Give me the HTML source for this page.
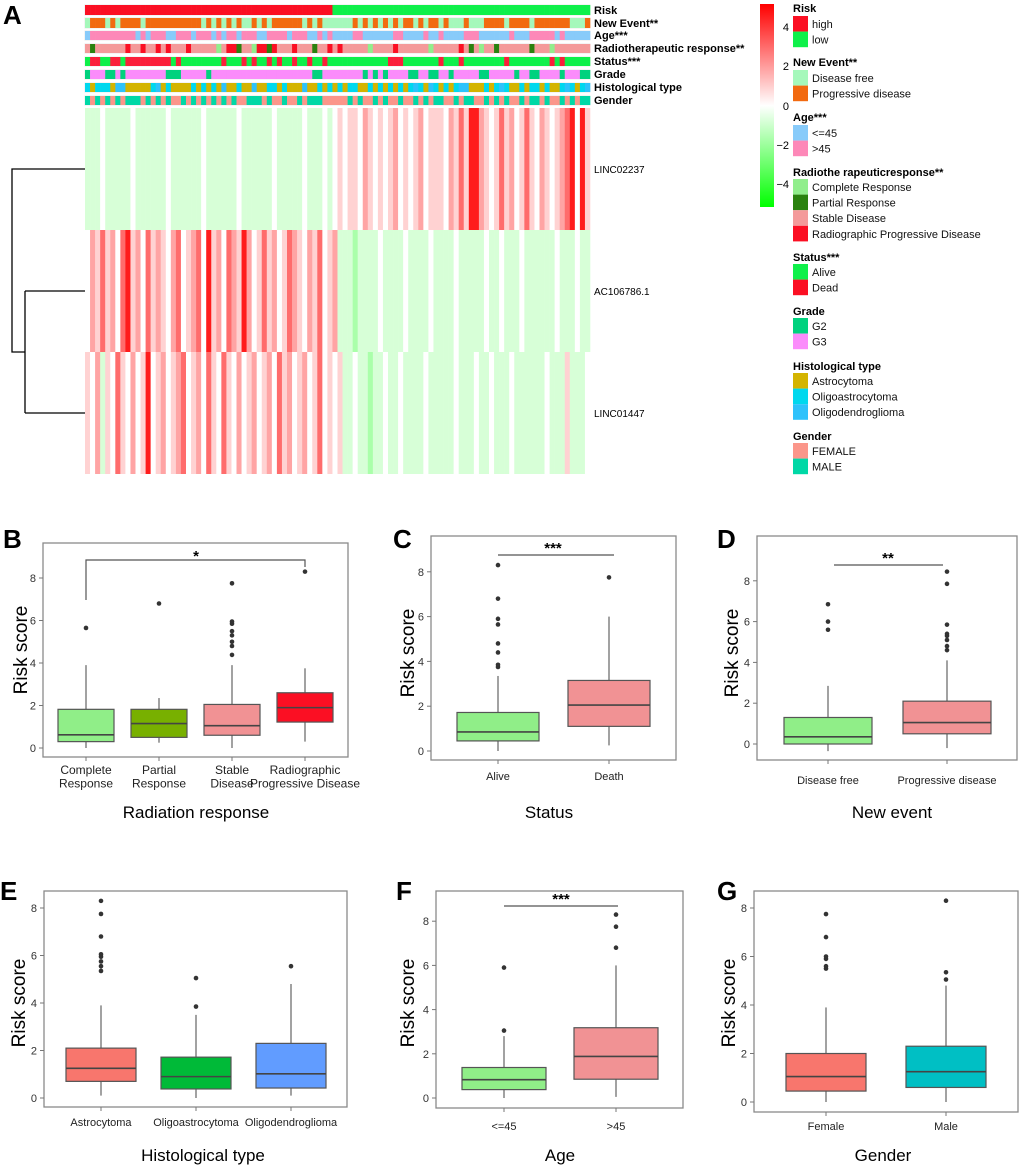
<!DOCTYPE html>
<html><head><meta charset="utf-8">
<style>
html,body{margin:0;padding:0;background:#fff;}
svg{display:block;font-family:"Liberation Sans",Arial,sans-serif;}
</style></head>
<body>
<svg id="fig" width="1020" height="1168" viewBox="0 0 1020 1168" xmlns="http://www.w3.org/2000/svg">
<rect x="0" y="0" width="1020" height="1168" fill="#fff"/>
<text x="3" y="24" font-size="26" font-weight="bold">A</text>
<g id="heat"></g>
<g id="legend"></g>
<g id="boxes"></g>
</svg>
<script>
// ---------- Heatmap data ----------
const annoRisk = "h".repeat(49) + "l".repeat(51);
const annoNewEvent = "npppnpnpppp" + "npppppppppppp".slice(0,12) + "npnpnpnpnnpnpnppppppnpnpnnnnnnpnpnpnpnpnppnpnppnpnnnpnnnppppnppppnpppppppnnnpn";
const annoAge = "bkkkkkkkkkbkbkkkbbkkkbkkkbkbkkbkkkbbkkkkbkkkbbkbkbbbbkkbbbbbbkkbbbbkbbkbbbbkkkbbbbbbkbbbkkkkkbkbbbbb";
const annoRadio = "spssssssrssrssrsrsssrssssscsrrpsscrrprsssrssspssrsrssssscssssrsssssscsssssrspscsspsssssspssscsssssssrccc";
const annoStatus = "addaaddadddddddddadaaaaaaaadaaadadaadadaadaadaadaaaaaaaaaaaadddaaaaaaadaaadaaaaaaaadaaaaaaaadadaaaaa";
const annoGrade = "2333223233333333222333332333333333333333333332233333333232323333223322332333332233333233223333233322";
const annoHisto = "oaoooaddaaaaaodaoaaaaoaoaoadaaoaadaaooaoaaadaaoaoaoaooaaoaoaoaoaodoadoaoaoddaaaoaodoaaoaooaoaaodoaod";
const annoGender = "mfmfmfmfmmmfmfmfmffmfmfmfmfmfmffmmmfmffmffmfmmmfffffmfmffmfmffmffmfmfmmffmfmmffmfmfmffmfmmfmffmfmfmm";
const rowNames = ["LINC02237", "AC106786.1", "LINC01447"];
const exprRow1 = "1112111112111111211111121111112111111211111211121232332432323423234233324353664323534235324323456263 4".replace(/ /g,"");
const exprRow2 = "2435342563425343245234526342543642353423543243523411101111211112111121111211111211211121111112111211";
const exprRow3 = "3241325324236234234523425325324234234253423423523231121101121121111211111211121121112111111211131112";
const digitValues = [-1.5, -0.7, 0, 0.8, 1.6, 2.6, 4];

const NS = "http://www.w3.org/2000/svg";
function mk(parent, tag, attrs, text) {
  const el = document.createElementNS(NS, tag);
  for (const k in attrs) el.setAttribute(k, attrs[k]);
  if (text !== undefined) el.textContent = text;
  parent.appendChild(el);
  return el;
}
function valColor(v) {
  const t = Math.min(1, Math.abs(v) / 4.5);
  const c = Math.round(255 * (1 - t));
  return v >= 0 ? `rgb(255,${c},${c})` : `rgb(${c},255,${c})`;
}

const heat = document.getElementById('heat');
const HX0 = 85, HX1 = 590, NCOL = 100, CW = (HX1 - HX0) / NCOL;
const colX = i => HX0 + i * CW;

const tracks = [
  {label: "Risk", s: annoRisk, y: 5, h: 10, cmap: {h: "#fb0f23", l: "#0ff04a"}},
  {label: "New Event**", s: annoNewEvent, y: 18, h: 10, cmap: {n: "#a5f8bb", p: "#f26a10"}},
  {label: "Age***", s: annoAge, y: 31, h: 9, cmap: {b: "#88cbfa", k: "#fd88b8"}},
  {label: "Radiotherapeutic response**", s: annoRadio, y: 44, h: 9, cmap: {s: "#f49a9a", r: "#fb0f23", p: "#2a820f", c: "#91ee8c"}},
  {label: "Status***", s: annoStatus, y: 57, h: 9, cmap: {a: "#0ff04a", d: "#fb1f3a"}},
  {label: "Grade", s: annoGrade, y: 70, h: 9, cmap: {"2": "#00d27e", "3": "#fb8cfb"}},
  {label: "Histological type", s: annoHisto, y: 83, h: 9, cmap: {a: "#d4b400", o: "#00d8ee", d: "#2ec2fb"}},
  {label: "Gender", s: annoGender, y: 96, h: 9, cmap: {f: "#fb968a", m: "#00d8a6"}}
];
tracks.forEach((tr, ti) => {
  const g = mk(heat, 'g', {});
  
  
  mk(g, 'rect', {x: HX0 - 0.5, y: tr.y - 0.5, width: HX1 - HX0 + 1, height: tr.h + 1, fill: "#e8e8e8"});
  for (let i = 0; i < NCOL; i++) {
    const ch = tr.s[Math.min(i, tr.s.length - 1)];
    mk(g, 'rect', {x: colX(i).toFixed(2), y: tr.y, width: (CW + 0.3).toFixed(2), height: tr.h, fill: tr.cmap[ch] || "#ccc"});
  }
  const t = mk(heat, 'text', {x: 594, y: tr.y + tr.h - 1, 'font-size': 11, 'font-weight': 'bold'}, tr.label);
  
  
});

const exprRows = [exprRow1, exprRow2, exprRow3];
const rowY = [108, 230, 352], rowH = 122;
exprRows.forEach((s, r) => {
  const g = mk(heat, 'g', {});
  
  
  for (let i = 0; i < NCOL; i++) {
    const d = parseInt(s[Math.min(i, s.length - 1)], 10);
    mk(g, 'rect', {x: colX(i).toFixed(2), y: rowY[r], width: (CW + 0.3).toFixed(2), height: rowH, fill: valColor(digitValues[d])});
  }
  const t = mk(heat, 'text', {x: 594, y: rowY[r] + rowH / 2 + 4, 'font-size': 10}, rowNames[r]);
  
  
});
// dendrogram
const dg = mk(heat, 'g', {stroke: "#000", 'stroke-width': 1.3, fill: "none"});


const ly = rowY.map(y => y + rowH / 2);
const midY = (ly[1] + ly[2]) / 2;
mk(dg, 'path', {d: `M85 ${ly[0]} H12 V${midY} H25 M25 ${ly[1]} V${ly[2]} M25 ${ly[1]} H85 M25 ${ly[2]} H85`});

// ---------- Legend ----------
const lg = document.getElementById('legend');
const grad = mk(lg, 'defs', {});
const lgr = mk(grad, 'linearGradient', {id: 'cb', x1: 0, y1: 0, x2: 0, y2: 1});
mk(lgr, 'stop', {offset: '0', 'stop-color': '#ff0000'});
mk(lgr, 'stop', {offset: '0.5', 'stop-color': '#ffffff'});
mk(lgr, 'stop', {offset: '1', 'stop-color': '#00ff00'});
const cbar = mk(lg, 'rect', {x: 760, y: 4, width: 14, height: 203, fill: 'url(#cb)'});


const cbTicks = ["4", "2", "0", "\u22122", "\u22124"];
const cbTickY = [27, 66, 106, 145, 184];
cbTicks.forEach((s, i) => {
  const t = mk(lg, 'text', {x: 789, y: cbTickY[i] + 4, 'font-size': 11, 'text-anchor': 'end'}, s);
  
  
});
const legendGroups = [
  {title: "Risk", ty: 8, sy: 16, items: [["high", "#fb0f23"], ["low", "#0ff04a"]]},
  {title: "New Event**", ty: 62, sy: 70, items: [["Disease free", "#a5f8bb"], ["Progressive disease", "#f26a10"]]},
  {title: "Age***", ty: 117, sy: 125, items: [["<=45", "#88cbfa"], [">45", "#fd88b8"]]},
  {title: "Radiothe rapeuticresponse**", ty: 172, sy: 179, items: [["Complete Response", "#91ee8c"], ["Partial Response", "#2a820f"], ["Stable Disease", "#f49a9a"], ["Radiographic Progressive Disease", "#fb0f23"]]},
  {title: "Status***", ty: 257, sy: 264, items: [["Alive", "#0ff04a"], ["Dead", "#fb0f23"]]},
  {title: "Grade", ty: 311, sy: 318, items: [["G2", "#00d27e"], ["G3", "#fb8cfb"]]},
  {title: "Histological type", ty: 366, sy: 373, items: [["Astrocytoma", "#d4b400"], ["Oligoastrocytoma", "#00d8ee"], ["Oligodendroglioma", "#2ec2fb"]]},
  {title: "Gender", ty: 436, sy: 443, items: [["FEMALE", "#fb968a"], ["MALE", "#00d8a6"]]}
];
legendGroups.forEach(grp => {
  const t = mk(lg, 'text', {x: 793, y: grp.ty + 4, 'font-size': 11, 'font-weight': 'bold'}, grp.title);
  
  
  grp.items.forEach((it, k) => {
    const y = grp.sy + k * 15.6;
    const r = mk(lg, 'rect', {x: 793, y: y, width: 15, height: 15.6, fill: it[1]});
    
    
    const tx = mk(lg, 'text', {x: 812, y: y + 12, 'font-size': 11, fill: '#111'}, it[0]);
    
    
  });
});

// ---------- Boxplot data ----------
const catsB = [["Complete", "Response"], ["Partial", "Response"], ["Stable", "Disease"], ["Radiographic", "Progressive Disease"]];
const q1B = [0.3, 0.5, 0.6, 1.22], medB = [0.62, 1.15, 1.05, 1.9], q3B = [1.82, 1.82, 2.05, 2.6];
const loB = [0, 0.25, 0, 0.3], hiB = [3.9, 2.35, 3.9, 3.75];
const outB = [[5.65], [6.8], [4.38, 4.8, 5.0, 5.3, 5.5, 5.85, 5.95, 7.75], [8.3]];

const catsC = [["Alive"], ["Death"]];
const q1C = [0.45, 1.1], medC = [0.85, 2.05], q3C = [1.72, 3.15];
const loC = [0, 0.25], hiC = [3.35, 6.0];
const outC = [[3.75, 3.85, 4.4, 4.8, 5.65, 5.9, 6.8, 8.3], [7.75]];

const catsD = [["Disease free"], ["Progressive disease"]];
const q1D = [0, 0.5], medD = [0.35, 1.05], q3D = [1.3, 2.1];
const loD = [-0.35, -0.2], hiD = [2.85, 4.1];
const outD = [[5.6, 6.0, 6.85], [4.6, 4.8, 5.1, 5.3, 5.4, 5.85, 7.85, 8.45]];

const catsE = [["Astrocytoma"], ["Oligoastrocytoma"], ["Oligodendroglioma"]];
const q1E = [0.7, 0.38, 0.42], medE = [1.25, 0.9, 1.02], q3E = [2.1, 1.72, 2.3];
const loE = [0.1, 0, 0.1], hiE = [3.9, 3.5, 4.8];
const outE = [[5.35, 5.55, 5.75, 5.95, 6.05, 6.8, 7.75, 8.3], [3.85, 5.05], [5.55]];

const catsF = [["<=45"], [">45"]];
const q1F = [0.38, 0.85], medF = [0.83, 1.88], q3F = [1.38, 3.18];
const loF = [0, 0.05], hiF = [2.8, 6.0];
const outF = [[3.05, 5.9], [6.8, 7.75, 8.3]];

const catsG = [["Female"], ["Male"]];
const q1G = [0.45, 0.6], medG = [1.05, 1.25], q3G = [2.0, 2.3];
const loG = [0, 0], hiG = [3.9, 4.8];
const outG = [[5.5, 5.6, 5.9, 6.0, 6.8, 7.75], [5.05, 5.35, 8.3]];

const yTicks = [0, 2, 4, 6, 8];

const panels = [
  {id: 'b', letter: 'B', lx: 3, ly: 548, fx0: 43, fx1: 348, fy0: 543, fy1: 757, y0: 748, unit: 21.25,
   cx: [86, 159, 232, 305], hw: 28, cats: catsB, q1: q1B, med: medB, q3: q3B, lo: loB, hi: hiB, out: outB,
   colors: ["#90ee88", "#78b000", "#f19294", "#fb0f23"], xlabY: 774, lab2: true, xtitle: "Radiation response", xtX: 196, xtY: 818, ytX: 27, ytY: 650, fs: 12,
   bracket: {x1: 86, x2: 305, y: 560, d1: 600, d2: 567, txt: "*", tx: 196, ty: 561}},
  {id: 'c', letter: 'C', lx: 393, ly: 548, fx0: 431, fx1: 676, fy0: 536, fy1: 760, y0: 751, unit: 22.4,
   cx: [498, 609], hw: 41, cats: catsC, q1: q1C, med: medC, q3: q3C, lo: loC, hi: hiC, out: outC,
   colors: ["#90ee88", "#f19294"], xlabY: 780, xtitle: "Status", xtX: 549, xtY: 818, ytX: 414, ytY: 653, fs: 11,
   bracket: {x1: 498, x2: 614, y: 555, txt: "***", tx: 553, ty: 553}},
  {id: 'd', letter: 'D', lx: 717, ly: 548, fx0: 757, fx1: 1017, fy0: 536, fy1: 760, y0: 744, unit: 20.4,
   cx: [828, 947], hw: 44, cats: catsD, q1: q1D, med: medD, q3: q3D, lo: loD, hi: hiD, out: outD,
   colors: ["#90ee88", "#f19294"], xlabY: 784, xtitle: "New event", xtX: 892, xtY: 818, ytX: 738, ytY: 653, fs: 11,
   bracket: {x1: 834, x2: 943, y: 565, txt: "**", tx: 888, ty: 563}},
  {id: 'e', letter: 'E', lx: 0, ly: 900, fx0: 44, fx1: 347, fy0: 891, fy1: 1107, y0: 1098, unit: 23.75,
   cx: [101, 196, 291], hw: 35, cats: catsE, q1: q1E, med: medE, q3: q3E, lo: loE, hi: hiE, out: outE,
   colors: ["#f8766d", "#00ba38", "#619cff"], xlabY: 1126, xtitle: "Histological type", xtX: 203, xtY: 1161, ytX: 25, ytY: 1003, fs: 11},
  {id: 'f', letter: 'F', lx: 396, ly: 900, fx0: 436, fx1: 683, fy0: 891, fy1: 1108, y0: 1098, unit: 22.1,
   cx: [504, 616], hw: 42, cats: catsF, q1: q1F, med: medF, q3: q3F, lo: loF, hi: hiF, out: outF,
   colors: ["#90ee88", "#f19294"], xlabY: 1130, xtitle: "Age", xtX: 560, xtY: 1161, ytX: 414, ytY: 1003, fs: 11,
   bracket: {x1: 504, x2: 618, y: 906, txt: "***", tx: 561, ty: 904}},
  {id: 'g', letter: 'G', lx: 717, ly: 900, fx0: 754, fx1: 1018, fy0: 891, fy1: 1112, y0: 1102, unit: 24.25,
   cx: [826, 946], hw: 40, cats: catsG, q1: q1G, med: medG, q3: q3G, lo: loG, hi: hiG, out: outG,
   colors: ["#f8766d", "#00bfc4"], xlabY: 1130, xtitle: "Gender", xtX: 883, xtY: 1161, ytX: 735, ytY: 1003, fs: 11}
];

const boxes = document.getElementById('boxes');
panels.forEach(p => {
  const g = mk(boxes, 'g', {});
  
  
  const yS = v => p.y0 - v * p.unit;
  const L = mk(g, 'text', {x: p.lx, y: p.ly, 'font-size': 26, 'font-weight': 'bold'}, p.letter);
  
  
  const fr = mk(g, 'rect', {x: p.fx0, y: p.fy0, width: p.fx1 - p.fx0, height: p.fy1 - p.fy0, fill: 'none', stroke: '#8a8a8a', 'stroke-width': 1.3});
  
  
  yTicks.forEach(v => {
    const y = yS(v);
    mk(g, 'line', {x1: p.fx0 - 4, x2: p.fx0, y1: y, y2: y, stroke: '#777', 'stroke-width': 1});
    const t = mk(g, 'text', {x: p.fx0 - 7, y: y + 4, 'font-size': 11, fill: '#333', 'text-anchor': 'end'}, String(v));
    
    
  });
  const yt = mk(g, 'text', {x: p.ytX, y: p.ytY, 'font-size': 19, 'text-anchor': 'middle', transform: `rotate(-90 ${p.ytX} ${p.ytY})`}, 'Risk score');
  
  
  const xt = mk(g, 'text', {x: p.xtX, y: p.xtY, 'font-size': 17, 'text-anchor': 'middle'}, p.xtitle);
  
  
  p.cats.forEach((c, i) => {
    const x = p.cx[i];
    mk(g, 'line', {x1: x, x2: x, y1: p.fy1, y2: p.fy1 + 4, stroke: '#777', 'stroke-width': 1});
    c.forEach((line, k) => {
      const t = mk(g, 'text', {x: x, y: p.xlabY + k * 13.5, 'font-size': p.fs, fill: '#222', 'text-anchor': 'middle'}, line);
      
      
    });
    const bg = mk(g, 'g', {});
    
    
    mk(bg, 'line', {x1: x, x2: x, y1: yS(p.hi[i]), y2: yS(p.q3[i]), stroke: '#555', 'stroke-width': 1.1});
    mk(bg, 'line', {x1: x, x2: x, y1: yS(p.q1[i]), y2: yS(p.lo[i]), stroke: '#555', 'stroke-width': 1.1});
    mk(bg, 'rect', {x: x - p.hw, y: yS(p.q3[i]), width: 2 * p.hw, height: yS(p.q1[i]) - yS(p.q3[i]), fill: p.colors[i], stroke: '#555', 'stroke-width': 1.2});
    mk(bg, 'line', {x1: x - p.hw, x2: x + p.hw, y1: yS(p.med[i]), y2: yS(p.med[i]), stroke: '#444', 'stroke-width': 1.6});
    p.out[i].forEach(v => {
      const d = mk(bg, 'circle', {cx: x, cy: yS(v), r: 2.3, fill: '#333'});
      
      
    });
  });
  if (p.bracket) {
    const b = p.bracket;
    let d = `M${b.x1} ${b.y} H${b.x2}`;
    if (b.d1) d = `M${b.x1} ${b.d1} V${b.y} H${b.x2} V${b.d2}`;
    const br = mk(g, 'path', {d: d, fill: 'none', stroke: '#555', 'stroke-width': 1.2});
    
    
    const st = mk(g, 'text', {x: b.tx, y: b.ty, 'font-size': 15, 'text-anchor': 'middle', 'font-weight': 'bold'}, b.txt);
    
    
  }
});
</script>
</body></html>
